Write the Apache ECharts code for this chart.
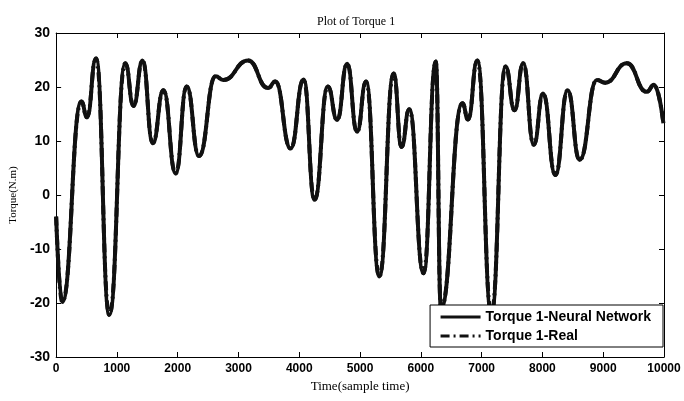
<!DOCTYPE html>
<html>
<head>
<meta charset="utf-8">
<script src="https://cdn.jsdelivr.net/npm/echarts@6/dist/echarts.min.js"></script>
<style>
  html, body { margin: 0; padding: 0; background: #fff; }
  #container { width: 684px; height: 401px; }
</style>
</head>
<body>
<div id="container"></div>
<script>
// sample times of the turning points
var timeSteps = [0, 100, 415, 508, 656, 875, 1137, 1273, 1421, 1590, 1765, 1967, 2148, 2350,
	2623, 2749, 3159, 3486, 3607, 3858, 4071, 4251, 4470, 4623, 4787, 4951, 5098, 5317,
	5552, 5683, 5809, 6044, 6246, 6330, 6684, 6776, 6929, 7160, 7393, 7541, 7683, 7858,
	8011, 8213, 8415, 8612, 8896, 9033, 9388, 9716, 9836, 9990];
// torque (N.m), network output
var nnTorque = [-4, -19.8, 17.3, 14.4, 25.3, -22.2, 24.4, 16.5, 24.9, 9.6, 19.4, 4.0, 20.1, 7.2,
	22.0, 21.3, 24.9, 19.8, 21.0, 8.6, 21.4, -0.9, 20.1, 13.9, 24.3, 11.7, 21.0, -15.1,
	22.5, 8.9, 15.9, -14.5, 24.7, -21.0, 17.0, 14.0, 24.9, -22.0, 23.8, 15.7, 24.4, 9.3,
	18.8, 3.7, 19.4, 6.5, 21.3, 20.8, 24.4, 19.1, 20.4, 13.3];
// torque (N.m), measured - lies on top of the network curve
var realTorque = [-4, -19.8, 17.3, 14.4, 25.3, -22.2, 24.4, 16.5, 24.9, 9.6, 19.4, 4.0, 20.1, 7.2,
	22.0, 21.3, 24.9, 19.8, 21.0, 8.6, 21.4, -0.9, 20.1, 13.9, 24.3, 11.7, 21.0, -15.1,
	22.5, 8.9, 15.9, -14.5, 24.7, -21.0, 17.0, 14.0, 24.9, -22.0, 23.8, 15.7, 24.4, 9.3,
	18.8, 3.7, 19.4, 6.5, 21.3, 20.8, 24.4, 19.1, 20.4, 13.3];
var xTicks = [0, 10000, 1000];
var yTicks = [-30, 30, 10];

function pairs(xs, ys) {
	var out = [];
	for (var i = 0; i < xs.length; i++) out.push([xs[i], ys[i]]);
	return out;
}

var myChart = echarts.init(document.getElementById('container'));

var sansLabel = { color: '#000', fontFamily: 'Liberation Sans, Arial', fontWeight: 'bold' };
var line = { onZero: false, lineStyle: { color: '#000', width: 1 } };
var tick = { inside: true, length: 5, lineStyle: { color: '#000' } };

var option = {
	backgroundColor: '#fff',
	animation: false,
	title: {
		text: 'Plot of Torque 1',
		left: 312,
		top: 11,
		textStyle: { fontFamily: 'Liberation Serif, Times New Roman', fontSize: 12, fontWeight: 'normal', color: '#000' }
	},
	grid: { left: 54, right: 20, top: 33, bottom: 44 },
	legend: {
		orient: 'vertical',
		right: 21,
		top: 305,
		backgroundColor: '#fff',
		borderColor: '#000',
		borderWidth: 1,
		borderRadius: 0,
		padding: [5, 12, 4, 9],
		itemGap: 5,
		itemWidth: 40,
		itemHeight: 12,
		itemStyle: { color: 'transparent', borderColor: 'transparent', borderWidth: 0 },
		lineStyle: { width: 3 },
		textStyle: { color: '#000', fontFamily: 'Liberation Sans, Arial', fontWeight: 'bold', fontSize: 14 },
		data: ['Torque 1-Neural Network', 'Torque 1-Real']
	},
	xAxis: [{
		type: 'value',
		min: xTicks[0], max: xTicks[1], interval: xTicks[2],
		name: 'Time(sample time)',
		nameLocation: 'middle',
		nameGap: 21,
		nameTextStyle: { fontFamily: 'Liberation Serif, Times New Roman', fontSize: 13, color: '#000' },
		axisLine: line,
		axisTick: tick,
		axisLabel: Object.assign({ fontSize: 12, margin: 6, formatter: function (v) { return String(v); } }, sansLabel),
		splitLine: { show: false }
	}, {
		type: 'value', position: 'top',
		min: xTicks[0], max: xTicks[1], interval: xTicks[2],
		axisLine: line,
		axisTick: tick,
		axisLabel: { show: false },
		splitLine: { show: false }
	}],
	yAxis: [{
		type: 'value',
		min: yTicks[0], max: yTicks[1], interval: yTicks[2],
		name: 'Torque(N.m)',
		nameLocation: 'middle',
		nameGap: 36,
		nameTextStyle: { fontFamily: 'Liberation Serif, Times New Roman', fontSize: 11, color: '#000' },
		axisLine: line,
		axisTick: tick,
		axisLabel: Object.assign({ fontSize: 14, margin: 6 }, sansLabel),
		splitLine: { show: false }
	}, {
		type: 'value', position: 'right',
		min: yTicks[0], max: yTicks[1], interval: yTicks[2],
		axisLine: line,
		axisTick: tick,
		axisLabel: { show: false },
		splitLine: { show: false }
	}],
	series: [{
		name: 'Torque 1-Neural Network',
		type: 'line',
		data: pairs(timeSteps, nnTorque),
		symbol: 'none',
		smooth: 0.5,
		smoothMonotone: 'x',
		itemStyle: { color: '#000' },
		lineStyle: { color: '#111', width: 4 },
		z: 2
	}, {
		name: 'Torque 1-Real',
		type: 'line',
		data: pairs(timeSteps, realTorque),
		symbol: 'none',
		smooth: 0.5,
		smoothMonotone: 'x',
		itemStyle: { color: '#000' },
		lineStyle: { color: '#111', width: 4, type: [9, 4, 2, 4] },
		z: 3
	}]
};

myChart.setOption(option);
</script>
</body>
</html>
